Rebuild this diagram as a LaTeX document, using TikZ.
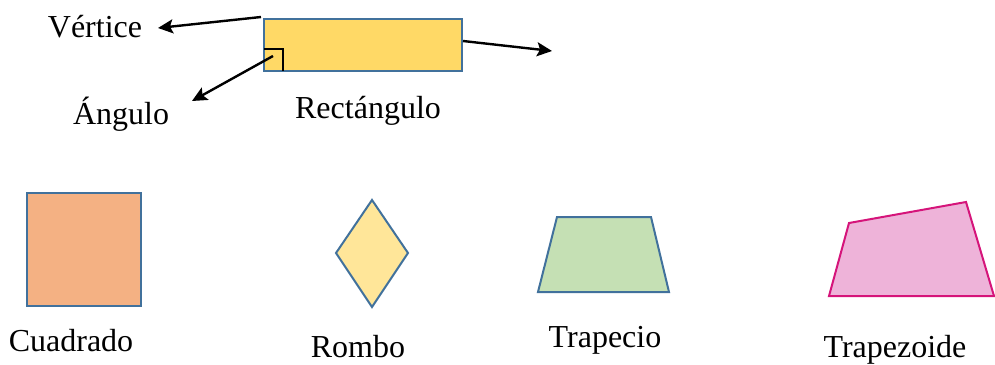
\documentclass[tikz,border=0pt]{standalone}
\usepackage{fontspec}
\setmainfont{Liberation Serif}
\usetikzlibrary{arrows.meta}
\definecolor{edgeblue}{HTML}{41719C}
\definecolor{rectfill}{HTML}{FFD966}
\definecolor{squarefill}{HTML}{F4B183}
\definecolor{rhombfill}{HTML}{FFE699}
\definecolor{trapfill}{HTML}{C5E0B4}
\definecolor{quadfill}{HTML}{EEB3D9}
\definecolor{quadedge}{HTML}{D5147A}
\tikzset{
  shapeline/.style={draw=edgeblue, line width=2pt, line join=miter},
  pointer/.style={draw=black, line width=2.4pt, -{Stealth[length=15pt,width=14pt,inset=3pt]}},
  name label/.style={font=\fontsize{32}{36}\selectfont, inner sep=0pt, anchor=base}
}
\begin{document}
\begin{tikzpicture}[x=1pt, y=-1pt]
  \useasboundingbox (0,0) rectangle (995,364);

  % rectangle with its right-angle mark
  \node[shapeline, fill=rectfill, minimum width=198pt, minimum height=52pt, inner sep=0pt] (rect) at (363,45) {};
  \draw[line width=1.2pt] (264,49) -- (283,49) -- (283,71);
  \node[name label] (rectname) at (368,118) {Rectángulo};

  % pointers from the rectangle
  \coordinate (vtop) at (261,17);
  \coordinate (vtip) at (158,28);
  \node[name label] (vert) at (95,37) {Vértice};
  \draw[pointer] (vtop) -- (vtip);

  \coordinate (aroot) at (273,56);
  \coordinate (atip) at (192,101);
  \node[name label] (ang) at (121,124) {Ángulo};
  \draw[pointer] (aroot) -- (atip);

  \coordinate (side) at (rect.east |- 0,41);
  \coordinate (stip) at (552,51);
  \draw[pointer] (side) -- (stip);

  % square
  \node[shapeline, fill=squarefill, minimum width=114pt, minimum height=113pt, inner sep=0pt] (square) at (84,249.5) {};
  \node[name label] (sqname) at (71,351) {Cuadrado};

  % rhombus
  \draw[shapeline, fill=rhombfill] (372,200) -- (408,253) -- (372,307) -- (336,253) -- cycle;
  \node[name label] (rhname) at (358,357) {Rombo};

  % trapezium
  \draw[shapeline, fill=trapfill] (557,217) -- (651,217) -- (669,292) -- (538,292) -- cycle;
  \node[name label] (trname) at (605,347) {Trapecio};

  % irregular quadrilateral
  \draw[draw=quadedge, line width=2pt, fill=quadfill] (849,223) -- (966,202) -- (994,296) -- (829,296) -- cycle;
  \node[name label] (tzname) at (895,357) {Trapezoide};
\end{tikzpicture}
\end{document}
